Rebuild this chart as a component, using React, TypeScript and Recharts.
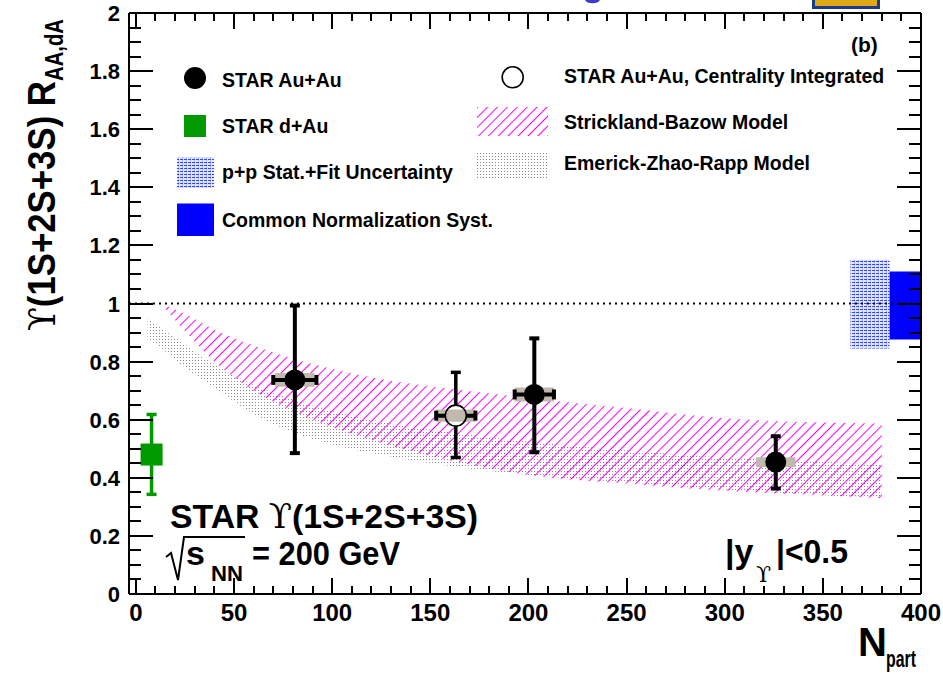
import React from "react";
import {
  ComposedChart,
  Area,
  Scatter,
  ErrorBar,
  XAxis,
  YAxis,
  ReferenceLine,
  ReferenceArea,
} from "recharts";

// ---------------- layout constants ----------------
const CHART_W = 943;
const CHART_H = 677;
const PLOT_L = 129;
const PLOT_R = 921;
const PLOT_T = 13;
const PLOT_B = 594;
const Y_AXIS_W = 60;
const Y_AXIS_R_W = 10;
const X_AXIS_H = 30;
const X_AXIS_TOP_H = 5;
const TICK_OFFSET = 8; // default tickSize (6) + tickMargin (2)
const X_DOMAIN: [number, number] = [-3.5, 400];
const Y_DOMAIN: [number, number] = [0, 2];
const PX_PER_Y = (PLOT_B - PLOT_T) / (Y_DOMAIN[1] - Y_DOMAIN[0]);
const FONT = "'Liberation Sans', Arial, Helvetica, sans-serif";
const SERIF = "'DejaVu Serif', 'Liberation Serif', serif";

// ---------------- data ----------------
// model bands
const bandNpart = [6, 14, 25, 40, 60, 80, 100, 120, 150, 200, 250, 300, 350, 380];
const sbLow = [null, 0.99, 0.905, 0.8, 0.7, 0.63, 0.575, 0.53, 0.475, 0.41, 0.38, 0.355, 0.34, 0.33];
const sbHigh = [null, 0.995, 0.965, 0.91, 0.855, 0.81, 0.775, 0.745, 0.715, 0.675, 0.64, 0.605, 0.59, 0.587];
const ezrLow = [0.88, 0.84, 0.78, 0.71, 0.62, 0.557, 0.515, 0.485, 0.45, 0.41, 0.385, 0.36, 0.34, 0.33];
const ezrHigh = [0.95, 0.91, 0.86, 0.79, 0.72, 0.67, 0.63, 0.6, 0.565, 0.525, 0.495, 0.47, 0.455, 0.446];

// STAR Au+Au (centrality bins)
const auNpart = [81, 203, 326];
const auRaa = [0.737, 0.687, 0.454];
const auStatLo = [0.485, 0.488, 0.363];
const auStatHi = [0.993, 0.88, 0.543];
const auXErr = [11, 10, 0];
const auSysX = [10, 10, 10];
const auSysY = [0.024, 0.024, 0.017];

// STAR Au+Au centrality integrated
const intNpart = [163];
const intRaa = [0.614];
const intStatLo = [0.47];
const intStatHi = [0.763];
const intXErr = [10];
const intSysX = [10];
const intSysY = [0.021];

// STAR d+Au
const daNpart = [8];
const daRaa = [0.48];
const daStatLo = [0.343];
const daStatHi = [0.618];
const daSysX = [11.7];
const daSysY = [0.019];

// normalization boxes at unity
const ppBoxX = [364, 384];
const ppBoxY = [0.845, 1.151];
const normBoxX = [384, 400];
const normBoxY = [0.876, 1.11];

// axis ticks
const xMajorTicks = [0, 50, 100, 150, 200, 250, 300, 350, 400];
const yMajorTicks = [0, 0.2, 0.4, 0.6, 0.8, 1, 1.2, 1.4, 1.6, 1.8, 2];

const xTicks: number[] = [];
for (let i = 0; i <= 40; i++) xTicks.push(i * 10);
const yTicks: number[] = [];
for (let i = 0; i <= 40; i++) yTicks.push(Math.round(i * 5) / 100);

// ---------------- derived tables ----------------
const bandData = bandNpart.map((n, i) => ({
  npart: n,
  sb: sbLow[i] == null ? null : [sbLow[i], sbHigh[i]],
  ezr: [ezrLow[i], ezrHigh[i]],
}));

const mkPoints = (
  np: number[],
  r: number[],
  lo: number[],
  hi: number[],
  xe: number[] | null
) =>
  np.map((n, i) => ({
    npart: n,
    raa: r[i],
    errY: [r[i] - lo[i], hi[i] - r[i]],
    errX: xe ? xe[i] : 0,
  }));

const auData = mkPoints(auNpart, auRaa, auStatLo, auStatHi, auXErr);
const intData = mkPoints(intNpart, intRaa, intStatLo, intStatHi, intXErr);
const daData = mkPoints(daNpart, daRaa, daStatLo, daStatHi, null);

const isMajor = (v: number, list: number[]) => list.some((m) => Math.abs(m - v) < 1e-6);
const fmtY = (v: number) => (v === 0 ? "0" : String(Math.round(v * 10) / 10));

// same linear mapping the axes use (fixed domain, fixed plot box) – for tick marks only
const xPx = (v: number) =>
  PLOT_L + ((v - X_DOMAIN[0]) / (X_DOMAIN[1] - X_DOMAIN[0])) * (PLOT_R - PLOT_L);
const yPx = (v: number) =>
  PLOT_B - ((v - Y_DOMAIN[0]) / (Y_DOMAIN[1] - Y_DOMAIN[0])) * (PLOT_B - PLOT_T);

// ---------------- tick labels (axis components) ----------------
const BottomTick = (props: any) => {
  const x = Number(props.x);
  const axisY = Number(props.y) - TICK_OFFSET;
  if (!isMajor(props.payload.value, xMajorTicks)) return <g />;
  return (
    <text
      x={x}
      y={axisY + 27}
      textAnchor="middle"
      fontFamily={FONT}
      fontWeight="bold"
      fontSize={24}
      fill="black"
    >
      {props.payload.value}
    </text>
  );
};

const LeftTick = (props: any) => {
  const y = Number(props.y);
  const axisX = Number(props.x) + TICK_OFFSET;
  if (!isMajor(props.payload.value, yMajorTicks)) return <g />;
  return (
    <text
      x={axisX - 9}
      y={y + 8}
      textAnchor="end"
      fontFamily={FONT}
      fontWeight="bold"
      fontSize={22}
      fill="black"
    >
      {fmtY(props.payload.value)}
    </text>
  );
};

const EmptyTick = () => <g />;

// ---------------- markers ----------------
const FilledCircle = (props: any) => {
  const { cx, cy } = props;
  if (cx == null || cy == null) return null;
  return <circle cx={cx} cy={cy} r={10.5} fill="black" />;
};

const OpenCircle = (props: any) => {
  const { cx, cy } = props;
  if (cx == null || cy == null) return null;
  const h = intSysY[0] * PX_PER_Y;
  return (
    <g>
      <clipPath id="openClip">
        <circle cx={cx} cy={cy} r={10} />
      </clipPath>
      <circle cx={cx} cy={cy} r={10.5} fill="white" />
      <rect x={cx - 12} y={cy - h} width={24} height={2 * h} fill="#c2b9ae" clipPath="url(#openClip)" />
      <circle cx={cx} cy={cy} r={10.5} fill="none" stroke="black" strokeWidth={1.6} />
    </g>
  );
};

const GreenSquare = (props: any) => {
  const { cx, cy } = props;
  if (cx == null || cy == null) return null;
  return <rect x={cx - 11} y={cy - 11} width={22} height={22} fill="#009900" />;
};

// ---------------- patterns (rect based) ----------------
const Patterns = ({ prefix }: { prefix: string }) => (
  <defs>
    <pattern
      id={`${prefix}hatch`}
      patternUnits="userSpaceOnUse"
      width={7}
      height={7}
      patternTransform="rotate(45)"
    >
      <rect x={0} y={0} width={1} height={7} fill="#ff00ff" />
    </pattern>
    <pattern id={`${prefix}dots`} patternUnits="userSpaceOnUse" width={3} height={3}>
      <rect x={0} y={0} width={1} height={1} fill="#8a8a8a" />
    </pattern>
    <pattern id={`${prefix}blue`} patternUnits="userSpaceOnUse" width={4} height={3}>
      <rect x={0} y={0} width={4} height={3} fill="#e4e8ff" />
      <rect x={0} y={0} width={3} height={1} fill="#3344ff" />
      <rect x={2} y={1.5} width={1} height={1} fill="#8090ff" />
    </pattern>
  </defs>
);

// ---------------- inward ROOT-style tick marks (one stroked path) ----------------
const buildTickPath = () => {
  const parts: string[] = [];
  xTicks.forEach((v) => {
    const len = isMajor(v, xMajorTicks) ? 16 : 8;
    const x = Math.round(xPx(v));
    parts.push(`M${x},${PLOT_B} V${PLOT_B - len}`);
    parts.push(`M${x},${PLOT_T} V${PLOT_T + len}`);
  });
  yTicks.forEach((v) => {
    const len = isMajor(v, yMajorTicks) ? 24 : 12;
    const y = Math.round(yPx(v));
    parts.push(`M${PLOT_L},${y} H${PLOT_L + len}`);
    parts.push(`M${PLOT_R},${y} H${PLOT_R - len}`);
  });
  return parts.join(" ");
};
const TICK_PATH = buildTickPath();

// ---------------- legend / labels overlay ----------------
const LegendOverlay = () => {
  const t = { fontFamily: FONT, fontWeight: "bold" as const, fill: "black" };
  const fit = { lengthAdjust: "spacingAndGlyphs" as const };
  return (
    <svg
      width={CHART_W}
      height={CHART_H}
      style={{ position: "absolute", left: 0, top: 0, pointerEvents: "none" }}
    >
      <Patterns prefix="lg" />
      <path d={TICK_PATH} stroke="#000000" strokeWidth={2} fill="none" />
      {/* left column */}
      <circle cx={195} cy={78} r={11} fill="black" />
      <text x={222} y={86.5} fontSize={19.5} {...t}>STAR Au+Au</text>
      <rect x={184} y={115} width={22} height={22} fill="#009900" />
      <text x={222} y={133.3} fontSize={19.5} {...t}>STAR d+Au</text>
      <rect x={177} y={157} width={37} height={31} fill="url(#lgblue)" />
      <text x={222} y={178.5} fontSize={19.5} {...t}>p+p Stat.+Fit Uncertainty</text>
      <rect x={177} y={203.5} width={37} height={32.5} fill="#0000ff" />
      <text x={222} y={226.5} fontSize={19.5} {...t}>Common Normalization Syst.</text>

      {/* right column */}
      <circle cx={512.7} cy={77.3} r={10.5} fill="white" stroke="black" strokeWidth={1.6} />
      <text x={564} y={83.3} fontSize={19.5} {...t}>STAR Au+Au, Centrality Integrated</text>
      <rect x={477} y={107} width={71} height={29} fill="url(#lghatch)" />
      <text x={564} y={129.3} fontSize={19.5} {...t}>Strickland-Bazow Model</text>
      <rect x={477} y={151} width={71} height={29} fill="url(#lgdots)" />
      <text x={564} y={170} fontSize={19.5} {...t}>Emerick-Zhao-Rapp Model</text>

      <text x={851} y={52} fontSize={21} {...t}>(b)</text>

      {/* y axis title */}
      <g transform="translate(55,331) rotate(-90)">
        <text x={0} y={0} fontSize={38} textLength={250} {...fit} {...t}>
          <tspan fontFamily={SERIF} fontWeight="normal">ϒ</tspan>(1S+2S+3S) R
        </text>
      </g>
      <g transform="translate(63,81) rotate(-90)">
        <text x={0} y={0} fontSize={26} textLength={62} {...fit} {...t}>AA,dA</text>
      </g>

      {/* x axis title */}
      <text x={858} y={656} fontSize={40} {...t}>N</text>
      <text x={886} y={667} fontSize={24} textLength={30} {...fit} {...t}>part</text>

      {/* plot annotations */}
      <text x={170} y={528} fontSize={34} textLength={308} {...fit} {...t}>
        STAR <tspan fontFamily={SERIF} fontWeight="normal">ϒ</tspan>(1S+2S+3S)
      </text>
      <path d="M166,557 L171,553 L178,580 L184,537 L245,537" fill="none" stroke="black" strokeWidth={2} />
      <text x={186} y={565} fontSize={34} {...t}>s</text>
      <text x={211} y={581} fontSize={22} textLength={32} {...fit} {...t}>NN</text>
      <text x={252} y={565} fontSize={33} textLength={148} {...fit} {...t}>= 200 GeV</text>
      <text x={725} y={563} fontSize={34} {...t}>|y</text>
      <text x={756} y={582} fontSize={22} fontFamily={SERIF} fill="black">ϒ</text>
      <text x={776} y={563} fontSize={34} textLength={72} {...fit} {...t}>|&lt;0.5</text>

      {/* clipped logo fragments at top edge */}
      <path d="M585,0 A8,5 0 0 0 600,0 Z" fill="#3b3bd0" />
      <rect x={812} y={0} width={68} height={9} fill="#1a3a8a" />
      <rect x={815} y={0} width={62} height={6} fill="#e0a818" />
    </svg>
  );
};

// ---------------- chart ----------------
export default function App() {
  return (
    <div style={{ position: "absolute", left: 0, top: 0, width: CHART_W, height: CHART_H, background: "white" }}>
      <ComposedChart
        width={CHART_W}
        height={CHART_H}
        data={bandData}
        margin={{
          top: PLOT_T - X_AXIS_TOP_H,
          left: PLOT_L - Y_AXIS_W,
          right: CHART_W - PLOT_R - Y_AXIS_R_W,
          bottom: CHART_H - PLOT_B - X_AXIS_H,
        }}
      >
        <Patterns prefix="ch" />
        <XAxis
          dataKey="npart"
          type="number"
          domain={X_DOMAIN}
          ticks={xTicks}
          interval={0}
          allowDataOverflow
          height={X_AXIS_H}
          tickLine={false}
          tick={<BottomTick />}
          axisLine={{ stroke: "black", strokeWidth: 2 }}
        />
        <XAxis
          xAxisId="top"
          orientation="top"
          type="number"
          domain={X_DOMAIN}
          ticks={xTicks}
          interval={0}
          allowDataOverflow
          height={X_AXIS_TOP_H}
          tickLine={false}
          tick={<EmptyTick />}
          axisLine={{ stroke: "black", strokeWidth: 2 }}
        />
        <YAxis
          dataKey="raa"
          type="number"
          domain={Y_DOMAIN}
          ticks={yTicks}
          interval={0}
          allowDataOverflow
          width={Y_AXIS_W}
          tickLine={false}
          tick={<LeftTick />}
          axisLine={{ stroke: "black", strokeWidth: 2 }}
        />
        <YAxis
          yAxisId="right"
          orientation="right"
          type="number"
          domain={Y_DOMAIN}
          ticks={yTicks}
          interval={0}
          allowDataOverflow
          width={Y_AXIS_R_W}
          tickLine={false}
          tick={<EmptyTick />}
          axisLine={{ stroke: "black", strokeWidth: 2 }}
        />

        <Area
          dataKey="ezr"
          type="monotone"
          stroke="none"
          fill="url(#chdots)"
          fillOpacity={1}
          isAnimationActive={false}
          activeDot={false}
          dot={false}
        />
        <Area
          dataKey="sb"
          type="monotone"
          stroke="none"
          fill="url(#chhatch)"
          fillOpacity={1}
          isAnimationActive={false}
          activeDot={false}
          dot={false}
        />

        <ReferenceArea
          x1={ppBoxX[0]}
          x2={ppBoxX[1]}
          y1={ppBoxY[0]}
          y2={ppBoxY[1]}
          fill="url(#chblue)"
          fillOpacity={1}
          stroke="none"
        />
        <ReferenceLine y={1} stroke="black" strokeWidth={2} strokeDasharray="2 4" />
        <ReferenceArea
          x1={normBoxX[0]}
          x2={normBoxX[1]}
          y1={normBoxY[0]}
          y2={normBoxY[1]}
          fill="#0000ff"
          fillOpacity={1}
          stroke="none"
        />

        {daNpart.map((n, i) => (
          <ReferenceArea
            key={`da${i}`}
            x1={n - daSysX[i]}
            x2={n + daSysX[i]}
            y1={daRaa[i] - daSysY[i]}
            y2={daRaa[i] + daSysY[i]}
            fill="#99cc99"
            fillOpacity={1}
            stroke="none"
          />
        ))}
        {auNpart.map((n, i) => (
          <ReferenceArea
            key={`au${i}`}
            x1={n - auSysX[i]}
            x2={n + auSysX[i]}
            y1={auRaa[i] - auSysY[i]}
            y2={auRaa[i] + auSysY[i]}
            fill="#c2b9ae"
            fillOpacity={1}
            stroke="none"
          />
        ))}
        {intNpart.map((n, i) => (
          <ReferenceArea
            key={`int${i}`}
            x1={n - intSysX[i]}
            x2={n + intSysX[i]}
            y1={intRaa[i] - intSysY[i]}
            y2={intRaa[i] + intSysY[i]}
            fill="#c2b9ae"
            fillOpacity={1}
            stroke="none"
          />
        ))}

        <Scatter data={daData} dataKey="raa" shape={<GreenSquare />} isAnimationActive={false}>
          <ErrorBar dataKey="errY" direction="y" width={5} stroke="#009900" strokeWidth={3.5} />
        </Scatter>
        <Scatter data={auData} dataKey="raa" shape={<FilledCircle />} isAnimationActive={false}>
          <ErrorBar dataKey="errY" direction="y" width={5} stroke="black" strokeWidth={4} />
          <ErrorBar dataKey="errX" direction="x" width={5} stroke="black" strokeWidth={4} />
        </Scatter>
        <Scatter data={intData} dataKey="raa" shape={<OpenCircle />} isAnimationActive={false}>
          <ErrorBar dataKey="errY" direction="y" width={5} stroke="black" strokeWidth={3.5} />
          <ErrorBar dataKey="errX" direction="x" width={5} stroke="black" strokeWidth={4} />
        </Scatter>
      </ComposedChart>
      <LegendOverlay />
    </div>
  );
}
